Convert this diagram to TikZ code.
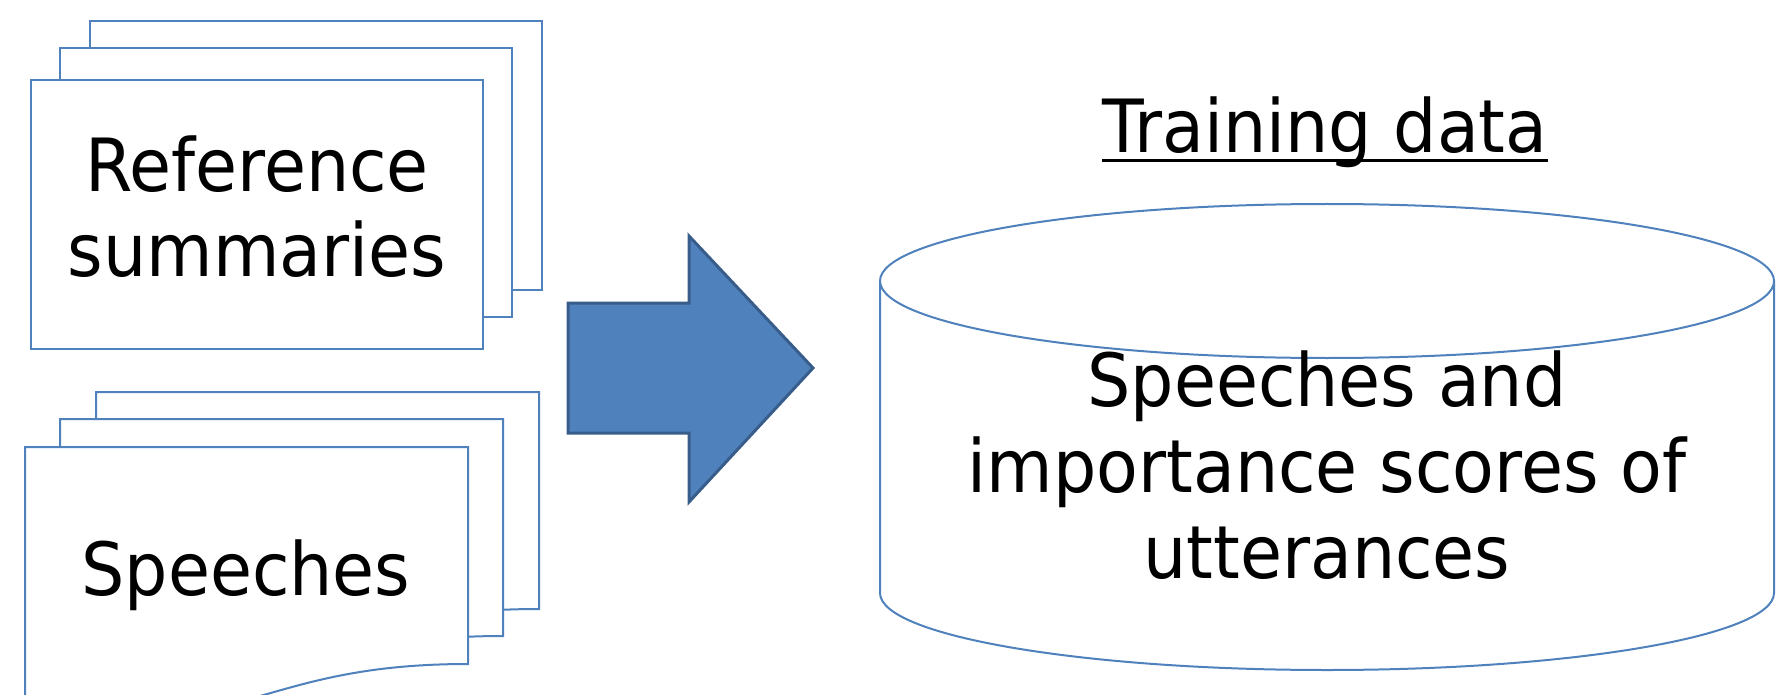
\documentclass[tikz,border=0pt]{standalone}
\usepackage{fontspec}
\setmainfont{DejaVu Sans}[FakeStretch=0.93]
\begin{document}
\begin{tikzpicture}[x=0.5pt, y=-0.5pt,
  page/.style={draw=sheet, line width=1pt, fill=white},
  txt/.style={font=\fontsize{36.7}{43}\selectfont, align=center, inner sep=0pt}]
\definecolor{sheet}{HTML}{4F81BD}
\definecolor{sheetdark}{HTML}{385D8A}
\useasboundingbox (0,0) rectangle (1776,695);
\clip (0,0) rectangle (1776,695);
\foreach \dx/\dy in {59/-59, 29/-32, 0/0}
  \draw[page, shift={(\dx,\dy)}] (31,80) rectangle (483,349);
\node[txt, anchor=base] (refsum) at (257,277) {Reference\\summaries};
\foreach \dx/\dy in {71/-55, 35/-28, 0/0}
  \draw[page, shift={(\dx,\dy)}] (25,447) -- (468,447) -- (468,664)
    .. controls (247,664) and (247,747) .. (25,700) -- cycle;
\node[txt, anchor=base] (speech) at (246,595) {Speeches};
\fill[sheet, draw=sheetdark, line width=1.5pt] (568,303) -- (689,303) -- (689,236) -- (813,368)
  -- (689,502) -- (689,433) -- (568,433) -- cycle;
\draw[page] (880,281) -- (880,593) arc[start angle=180, end angle=0, x radius=447, y radius=77] -- (1774,281);
\draw[page] (1327,281) ellipse[x radius=447, y radius=77];
\node[txt, anchor=base] (title) at (1325,153) {Training data};
\draw[line width=1.5pt] ([yshift=-4pt]title.base west) -- ([yshift=-4pt]title.base east);
\node[txt, anchor=base] (store) at (1327,578) {Speeches and\\importance scores of\\utterances};
\end{tikzpicture}
\end{document}
